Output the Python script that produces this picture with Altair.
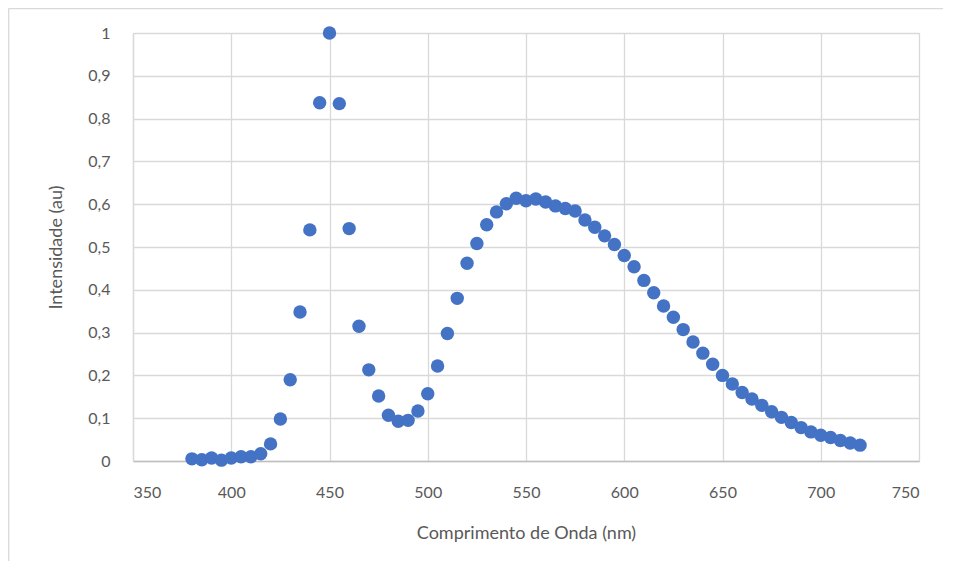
import altair as alt
import pandas as pd

wavelength = list(range(380, 725, 5))
intensity = [
    0.005, 0.003, 0.007, 0.002, 0.007, 0.010, 0.010, 0.017, 0.040, 0.098,
    0.190, 0.348, 0.540, 0.837, 1.000, 0.835, 0.543, 0.315, 0.213, 0.152,
    0.107, 0.093, 0.095, 0.117, 0.157, 0.222, 0.298, 0.380, 0.462, 0.508,
    0.552, 0.582, 0.601, 0.614, 0.608, 0.612, 0.605, 0.596, 0.590, 0.584,
    0.563, 0.546, 0.526, 0.506, 0.480, 0.454, 0.422, 0.393, 0.362, 0.336,
    0.307, 0.278, 0.252, 0.226, 0.200, 0.180, 0.160, 0.145, 0.130, 0.115,
    0.102, 0.090, 0.078, 0.068, 0.060, 0.055, 0.048, 0.042, 0.037,
]
x_ticks = [350, 400, 450, 500, 550, 600, 650, 700, 750]
y_ticks = [0, 0.1, 0.2, 0.3, 0.4, 0.5, 0.6, 0.7, 0.8, 0.9, 1.0]

df = pd.DataFrame({"wl": wavelength, "val": intensity})

FONT = "Lato"
TXT = "#595959"
W, H = 786, 428

points = alt.Chart(df).mark_circle(size=180, color="#4472C4", opacity=1).encode(
    x=alt.X(
        "wl:Q",
        scale=alt.Scale(domain=[350, 750], nice=False, zero=False),
        axis=alt.Axis(
            values=x_ticks,
            title="Comprimento de Onda (nm)",
            grid=True,
            gridColor="#D9D9D9",
            gridWidth=1.3,
            domain=True,
            domainColor="#BFBFBF",
            domainWidth=1.3,
            ticks=False,
            tickSize=0,
            labelPadding=23,
            labelFont=FONT,
            labelFontSize=16,
            labelColor=TXT,
            titleFont=FONT,
            titleFontSize=18,
            titleFontWeight="normal",
            titleColor=TXT,
            titlePadding=24,
        ),
    ),
    y=alt.Y(
        "val:Q",
        scale=alt.Scale(domain=[0, 1], nice=False),
        axis=alt.Axis(
            values=y_ticks,
            title="Intensidade (au)",
            grid=True,
            gridColor="#D9D9D9",
            gridWidth=1.3,
            domain=True,
            domainColor="#D9D9D9",
            domainWidth=1.3,
            ticks=False,
            tickSize=0,
            labelPadding=23,
            labelExpr="replace(format(datum.value, '.1~f'), '.', ',')",
            labelFont=FONT,
            labelFontSize=16,
            labelColor=TXT,
            titleFont=FONT,
            titleFontSize=18,
            titleFontWeight="normal",
            titleColor=TXT,
            titlePadding=22,
        ),
    ),
)

border_df = pd.DataFrame({"k": [0]})
top_border = alt.Chart(border_df).mark_rule(color="#D9D9D9", strokeWidth=1.3).encode(
    x=alt.value(-124.5), x2=alt.value(W + 30), y=alt.value(-24.3)
)
left_border = alt.Chart(border_df).mark_rule(color="#D9D9D9", strokeWidth=1.3).encode(
    x=alt.value(-124.3), y=alt.value(-24.5), y2=alt.value(H + 120)
)

chart = (
    alt.layer(points, top_border, left_border)
    .properties(
        width=W,
        height=H,
        autosize=alt.AutoSizeParams(type="none"),
        padding={"left": 125, "top": 25, "right": 24, "bottom": 100},
    )
    .configure_view(stroke=None)
    .configure(background="white")
)

chart.save("out.html", embed_options={"renderer": "svg", "actions": False})
